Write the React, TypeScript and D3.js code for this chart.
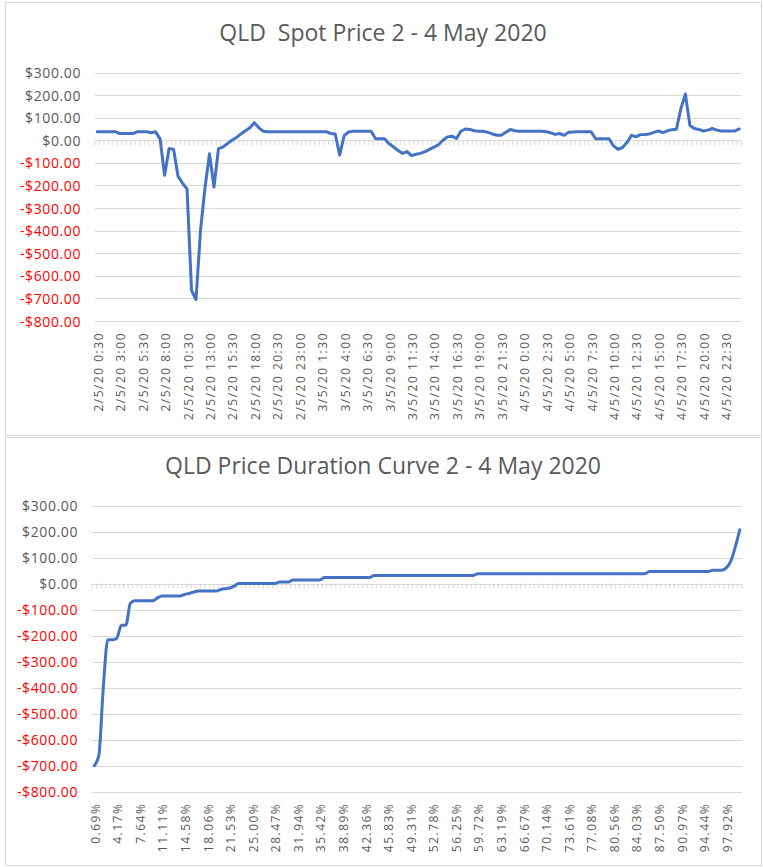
import React from "react";
import * as d3 from "d3";

// half-hourly QLD spot price, 2/5/20 0:30 .. 4/5/20 24:00
const spotPrices = [
  38, 38, 38, 38, 38, 30, 30, 30, 30, 38, 38, 38, 33, 38, 5, -155, -37, -40, -160, -190,
  -215, -665, -705, -400, -210, -60, -207, -37, -30, -15, 0, 12, 28, 42, 55, 78, 55, 40, 38, 38,
  38, 38, 38, 38, 38, 38, 38, 38, 38, 38, 38, 38, 30, 28, -65, 20, 37, 40, 40, 40,
  40, 40, 7, 7, 7, -15, -30, -45, -58, -50, -68, -62, -58, -50, -40, -30, -20, 0, 15, 18,
  8, 40, 50, 48, 42, 40, 40, 35, 28, 22, 22, 35, 48, 42, 40, 40, 40, 40, 40, 40,
  38, 33, 26, 30, 22, 35, 37, 38, 38, 38, 38, 7, 7, 7, 7, -25, -40, -32, -10, 22,
  15, 25, 26, 28, 35, 41, 34, 42, 47, 49, 140, 205, 66, 52, 48, 41, 45, 52, 45, 41,
  41, 41, 41, 50,
];

// price duration curve
const durationPrices = [
  -700, -662, -400, -216, -216, -210, -160, -160, -76, -66, -66, -66, -66, -66, -55, -48, -48, -48, -48, -48,
  -42, -38, -33, -29, -29, -29, -29, -29, -23, -20, -17, -10, 0, 0, 0, 0, 0, 0, 0, 0,
  0, 6, 6, 6, 14, 14, 14, 14, 14, 14, 14, 23, 23, 23, 23, 23, 23, 23, 23, 23,
  23, 23, 31, 31, 31, 31, 31, 31, 31, 31, 31, 31, 31, 31, 31, 31, 31, 31, 31, 31,
  31, 31, 31, 31, 31, 38, 38, 38, 38, 38, 38, 38, 38, 38, 38, 38, 38, 38, 38, 38,
  38, 38, 38, 38, 38, 38, 38, 38, 38, 38, 38, 38, 38, 38, 38, 38, 38, 38, 38, 38,
  38, 38, 38, 46, 46, 46, 46, 46, 46, 46, 46, 46, 46, 46, 46, 46, 46, 51, 51, 51,
  60, 85, 140, 207,
];

const spotTickLabels = [
  "2/5/20 0:30", "2/5/20 3:00", "2/5/20 5:30", "2/5/20 8:00", "2/5/20 10:30", "2/5/20 13:00",
  "2/5/20 15:30", "2/5/20 18:00", "2/5/20 20:30", "2/5/20 23:00", "3/5/20 1:30", "3/5/20 4:00",
  "3/5/20 6:30", "3/5/20 9:00", "3/5/20 11:30", "3/5/20 14:00", "3/5/20 16:30", "3/5/20 19:00",
  "3/5/20 21:30", "4/5/20 0:00", "4/5/20 2:30", "4/5/20 5:00", "4/5/20 7:30", "4/5/20 10:00",
  "4/5/20 12:30", "4/5/20 15:00", "4/5/20 17:30", "4/5/20 20:00", "4/5/20 22:30",
];

const durationTickLabels = [
  "0.69%", "4.17%", "7.64%", "11.11%", "14.58%", "18.06%", "21.53%", "25.00%", "28.47%", "31.94%",
  "35.42%", "38.89%", "42.36%", "45.83%", "49.31%", "52.78%", "56.25%", "59.72%", "63.19%", "66.67%",
  "70.14%", "73.61%", "77.08%", "80.56%", "84.03%", "87.50%", "90.97%", "94.44%", "97.92%",
];

const yTicks = [300, 200, 100, 0, -100, -200, -300, -400, -500, -600, -700, -800];

const FONT = "'Open Sans', sans-serif";
const GREY = "#595959";
const GRID = "#d9d9d9";
const LINE = "#4472c4";

const money = (v) => (v < 0 ? "-$" : "$") + Math.abs(v).toFixed(2);

const LineChart = ({ title, values, labels, box, plot, titleY, curve }) => {
  const x = d3
    .scaleBand()
    .domain(d3.range(values.length))
    .range([plot.left, plot.right]);
  const y = d3.scaleLinear().domain([-800, 300]).range([plot.bottom, plot.top]);
  const cx = (i) => x(i) + x.bandwidth() / 2;

  const path = d3
    .line()
    .x((_, i) => cx(i))
    .y((d) => y(d))
    .curve(curve)(values);

  // minor tick marks on the zero axis, one per category boundary
  const edges = d3.range(values.length + 1).map((k) => plot.left + k * x.step());

  return (
    <g>
      <rect x={box[0] + 0.5} y={box[1] + 0.5} width={box[2]} height={box[3]} fill="#fff" stroke={GRID} />
      <text
        x={box[0] + box[2] / 2}
        y={titleY}
        textAnchor="middle"
        fontFamily={FONT}
        fontSize={23}
        fill={GREY}
        style={{ whiteSpace: "pre" }}
      >
        {title}
      </text>
      {yTicks.map((t) => (
        <g key={t}>
          <line x1={plot.left} x2={plot.right} y1={Math.round(y(t)) + 0.5} y2={Math.round(y(t)) + 0.5} stroke={GRID} />
          <text
            x={plot.left - 14}
            y={y(t)}
            textAnchor="end"
            dominantBaseline="central"
            fontFamily={FONT}
            fontSize={14}
            letterSpacing={0.6}
            fill={t < 0 ? "#ff0000" : GREY}
          >
            {money(t)}
          </text>
        </g>
      ))}
      {edges.map((ex, k) => (
        <line key={k} x1={ex} x2={ex} y1={y(0)} y2={y(0) + 5} stroke={GRID} />
      ))}
      {labels.map((lab, j) => {
        const lx = cx(j * 5) + 1;
        const ly = plot.bottom + 11;
        return (
          <text
            key={lab}
            transform={`translate(${lx},${ly}) rotate(-90)`}
            textAnchor="end"
            dominantBaseline="central"
            fontFamily={FONT}
            fontSize={12}
            letterSpacing={1.5}
            fill={GREY}
          >
            {lab}
          </text>
        );
      })}
      <path d={path} fill="none" stroke={LINE} strokeWidth={3} strokeLinejoin="round" strokeLinecap="round" />
    </g>
  );
};

export default function App() {
  return (
    <svg width={763} height={867} style={{ position: "absolute", left: 0, top: 0, background: "#fff" }}>
      <LineChart
        title="QLD  Spot Price 2 - 4 May 2020"
        values={spotPrices}
        labels={spotTickLabels}
        box={[5, 2, 756, 433]}
        plot={{ left: 95, right: 741.5, top: 72.5, bottom: 321 }}
        titleY={41}
        curve={d3.curveLinear}
      />
      <LineChart
        title="QLD Price Duration Curve 2 - 4 May 2020"
        values={durationPrices}
        labels={durationTickLabels}
        box={[5, 437, 756, 428]}
        plot={{ left: 92, right: 742, top: 505.5, bottom: 791.7 }}
        titleY={474}
        curve={d3.curveMonotoneX}
      />
    </svg>
  );
}
